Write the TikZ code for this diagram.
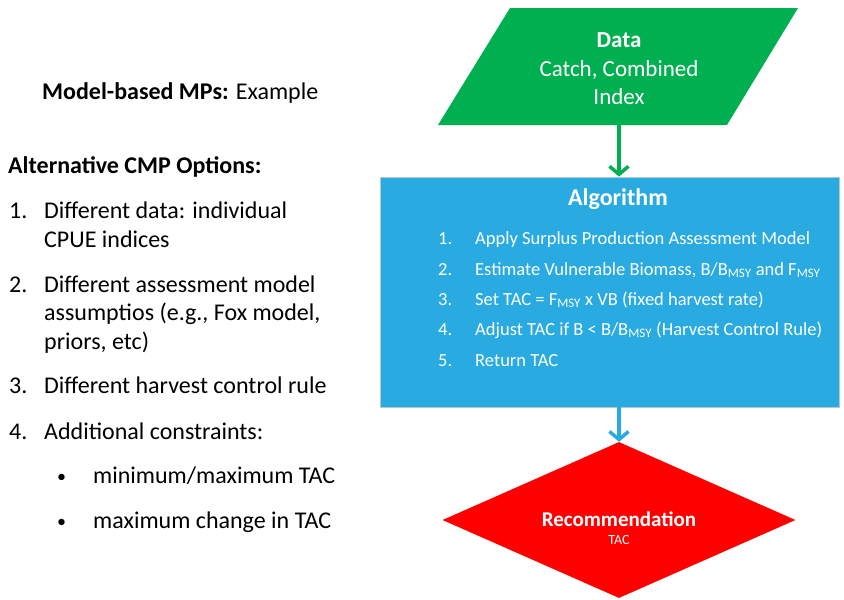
\documentclass[tikz,border=0pt]{standalone}
\usepackage{fontspec}
\setmainfont{Carlito}
\usetikzlibrary{arrows.meta,shapes.geometric}
\newcommand{\msysub}{\textsubscript{MSY}}
\begin{document}
\begin{tikzpicture}[x=1pt,y=-1pt,
  lefttxt/.style={anchor=base west,inner sep=0pt,font=\fontsize{24}{28}\selectfont},
  algtxt/.style={anchor=base west,inner sep=0pt,text=white,font=\fontsize{18.5}{22}\selectfont},
  flowarrow/.style={line width=3.5pt,-{Straight Barb[length=8pt,width=19pt,line width=3.5pt]}},
]
\useasboundingbox (0,0) rectangle (844,600);
\fill[white] (0,0) rectangle (844,600);

% left column
\node[lefttxt] (title) at (42,99) {\textbf{Model-based MPs:} Example};
\node[lefttxt] (alt) at (8,173) {\textbf{Alternative CMP Options:}};
\node[lefttxt] (n1) at (9,218) {1.};
\node[lefttxt] (t1a) at (44,218) {Different data: individual};
\node[lefttxt] (t1b) at (44,247) {CPUE indices};
\node[lefttxt] (n2) at (9,292) {2.};
\node[lefttxt] (t2a) at (44,292) {Different assessment model};
\node[lefttxt] (t2b) at (44,320) {assumptios (e.g., Fox model,};
\node[lefttxt] (t2c) at (44,349) {priors, etc)};
\node[lefttxt] (n3) at (9,393) {3.};
\node[lefttxt] (t3) at (44,393) {Different harvest control rule};
\node[lefttxt] (n4) at (9,439) {4.};
\node[lefttxt] (t4) at (44,439) {Additional constraints:};
\node[lefttxt,font=\fontsize{18}{20}\selectfont] (b1) at (57,482) {\textbullet};
\node[lefttxt] (t4a) at (93,483) {minimum/maximum TAC};
\node[lefttxt,font=\fontsize{18}{20}\selectfont] (b2) at (57,527) {\textbullet};
\node[lefttxt] (t4b) at (93,528) {maximum change in TAC};

% data parallelogram
\fill[fill={rgb,255:red,0;green,176;blue,80}] (510,8) -- (798,8) -- (727,125) -- (438,125) -- cycle;
\node[minimum width=230pt,minimum height=117pt,inner sep=0pt] (data) at (619,66.5) {};
\node[anchor=base,inner sep=0pt,text=white,font=\fontsize{23}{26}\selectfont\bfseries] (datat) at (619,47) {Data};
\node[anchor=base,inner sep=0pt,text=white,font=\fontsize{23}{26}\selectfont] (datal1) at (619,76) {Catch, Combined};
\node[anchor=base,inner sep=0pt,text=white,font=\fontsize{23}{26}\selectfont] (datal2) at (619,104) {Index};

% algorithm box
\node[draw={rgb,255:red,180;green,200;blue,210},line width=0.8pt,fill={rgb,255:red,41;green,171;blue,226},
  minimum width=459pt,minimum height=230pt,inner sep=0pt] (alg) at (610,292) {};
\node[anchor=base,inner sep=0pt,text=white,font=\fontsize{24}{28}\selectfont\bfseries] (algt) at (618,205) {Algorithm};
\node[algtxt] (a1n) at (438,244) {1.};
\node[algtxt] (a1) at (475,244) {Apply Surplus Production Assessment Model};
\node[algtxt] (a2n) at (438,275) {2.};
\node[algtxt] (a2) at (475,275) {Estimate Vulnerable Biomass, B/B\msysub{} and F\msysub};
\node[algtxt] (a3n) at (438,305) {3.};
\node[algtxt] (a3) at (475,305) {Set TAC = F\msysub{} x VB (fixed harvest rate)};
\node[algtxt] (a4n) at (438,335) {4.};
\node[algtxt] (a4) at (475,335) {Adjust TAC if B < B/B\msysub{} (Harvest Control Rule)};
\node[algtxt] (a5n) at (438,366) {5.};
\node[algtxt] (a5) at (475,366) {Return TAC};

% recommendation diamond
\node[diamond,fill={rgb,255:red,255;green,0;blue,0},minimum width=353pt,minimum height=156pt,inner sep=0pt] (rec) at (619,520) {};
\node[anchor=base,inner sep=0pt,text=white,font=\fontsize{21}{24}\selectfont\bfseries] (rect) at (619,526) {Recommendation};
\node[anchor=base,inner sep=0pt,text=white,font=\fontsize{14}{16}\selectfont] (recs) at (619,544) {TAC};

% connectors
\draw[flowarrow,draw={rgb,255:red,0;green,176;blue,80}] (data.south) -- (data.south |- alg.north);
\draw[flowarrow,draw={rgb,255:red,41;green,171;blue,226}] (alg.south -| rec.north) -- (rec.north);
\end{tikzpicture}
\end{document}
